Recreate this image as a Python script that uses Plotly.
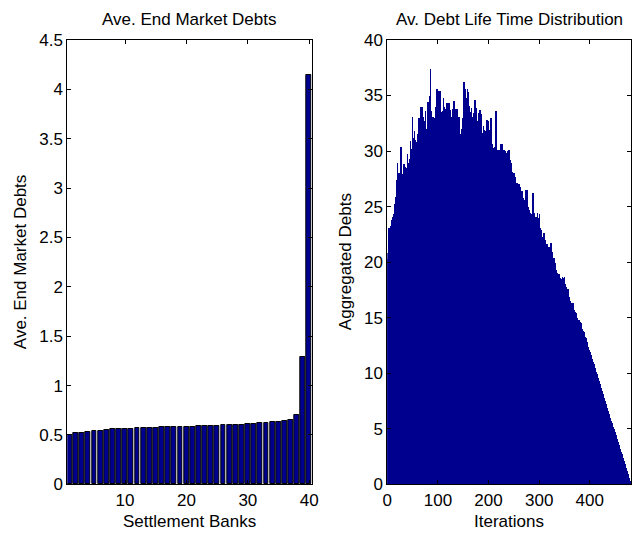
import plotly.graph_objects as go

# Average end-of-day market debt per settlement bank (banks sorted ascending)
banks = list(range(1, 41))
end_market_debts = [
    0.501, 0.521, 0.521, 0.534, 0.541, 0.541, 0.548, 0.558, 0.558, 0.558,
    0.562, 0.569, 0.569, 0.575, 0.575, 0.578, 0.578, 0.578, 0.582, 0.585,
    0.585, 0.588, 0.588, 0.588, 0.592, 0.599, 0.602, 0.605, 0.605, 0.609,
    0.612, 0.619, 0.622, 0.626, 0.636, 0.639, 0.650, 0.707, 1.290, 4.150,
]

# Aggregated debts still alive after each iteration
aggregated_debts = [
    20.3, 20.8, 21.3, 23.1, 22.6, 21.1, 23.0, 23.3, 22.8, 23.8,
    23.5, 24.1, 23.6, 24.3, 23.9, 25.2, 25.9, 25.0, 26.3, 27.4,
    28.9, 27.0, 28.0, 26.8, 27.6, 28.0, 27.1, 30.4, 27.5, 27.0,
    27.9, 26.9, 28.2, 28.8, 27.8, 28.6, 27.3, 28.5, 27.7, 29.7,
    28.1, 27.6, 28.9, 28.0, 29.3, 30.9, 29.0, 30.2, 29.6, 33.1,
    31.2, 30.0, 29.5, 31.8, 30.4, 31.0, 30.3, 29.2, 30.8, 30.1,
    31.5, 29.8, 33.0, 32.1, 31.0, 34.0, 32.3, 31.5, 34.0, 32.6,
    31.8, 33.1, 32.5, 31.0, 32.7, 33.6, 32.0, 30.6, 31.2, 32.5,
    34.4, 32.1, 33.0, 35.0, 32.8, 37.4, 33.6, 33.4, 31.9, 32.8,
    33.1, 31.5, 32.5, 33.0, 31.8, 34.0, 32.9, 33.2, 35.6, 34.0,
    33.2, 34.6, 35.4, 33.0, 34.1, 35.4, 33.5, 33.3, 33.0, 32.1,
    33.6, 34.8, 33.2, 34.0, 32.6, 33.8, 32.9, 33.5, 34.3, 32.8,
    33.4, 34.3, 32.0, 33.0, 33.7, 33.1, 32.2, 32.9, 33.8, 32.5,
    33.6, 34.5, 33.0, 32.4, 33.2, 33.8, 32.1, 33.0, 33.8, 32.7,
    31.9, 33.1, 32.4, 31.3, 31.5, 30.8, 32.0, 31.4, 32.2, 33.0,
    34.5, 36.2, 34.2, 35.0, 35.6, 33.6, 34.8, 33.9, 35.6, 34.2,
    35.3, 34.1, 34.0, 33.2, 32.8, 33.5, 33.9, 32.5, 33.1, 32.8,
    33.4, 32.3, 33.0, 34.6, 32.9, 33.1, 33.9, 32.4, 32.0, 32.7,
    33.4, 32.1, 32.8, 33.7, 31.8, 32.4, 33.3, 31.5, 31.0, 31.6,
    32.3, 30.9, 31.9, 31.2, 31.8, 30.6, 31.5, 32.8, 31.3, 31.0,
    32.7, 31.1, 31.9, 30.8, 33.0, 31.4, 30.2, 30.6, 29.8, 30.3,
    29.7, 30.4, 29.5, 31.0, 33.6, 30.3, 29.4, 30.1, 29.0, 29.8,
    30.1, 29.3, 29.7, 29.1, 30.6, 29.5, 29.8, 30.6, 29.0, 29.4,
    30.1, 28.8, 29.5, 30.0, 29.8, 28.9, 29.3, 30.0, 29.1, 29.8,
    30.1, 28.6, 29.2, 28.4, 28.9, 27.5, 28.1, 27.4, 27.0, 27.6,
    28.0, 27.2, 26.9, 27.7, 26.8, 27.1, 26.5, 27.1, 26.6, 26.2,
    27.0, 26.1, 26.5, 26.8, 25.9, 26.2, 26.4, 25.7, 25.3, 25.8,
    25.6, 24.9, 25.4, 26.5, 25.1, 24.8, 26.5, 25.2, 24.6, 25.0,
    24.7, 23.9, 24.4, 23.8, 23.5, 24.3, 25.0, 26.2, 24.1, 23.6,
    24.4, 23.7, 23.2, 24.1, 24.0, 23.3, 24.4, 23.5, 23.1, 24.0,
    24.3, 23.1, 22.7, 22.9, 22.4, 22.0, 22.3, 21.8, 22.6, 21.9,
    22.6, 21.5, 22.0, 21.3, 21.2, 21.6, 21.0, 21.4, 20.8, 21.2,
    21.4, 20.6, 21.2, 21.7, 20.3, 20.9, 20.2, 19.7, 20.1, 20.4,
    19.6, 19.9, 19.0, 19.3, 18.7, 19.0, 18.6, 18.9, 18.2, 18.9,
    18.4, 18.0, 18.6, 18.3, 17.9, 18.5, 18.7, 18.1, 18.6, 18.2,
    18.7, 17.8, 18.0, 17.5, 17.8, 17.4, 17.2, 17.6, 16.9, 16.8,
    16.9, 16.5, 16.3, 16.1, 16.3, 15.9, 16.3, 15.8, 15.6, 15.7,
    15.4, 15.5, 15.2, 15.4, 14.9, 15.0, 14.7, 14.5, 14.8, 14.7,
    14.4, 14.6, 14.3, 14.5, 14.0, 13.9, 13.8, 13.6, 13.7, 13.4,
    13.3, 13.1, 13.0, 13.2, 12.8, 12.6, 12.4, 12.3, 12.1, 12.0,
    11.9, 11.7, 11.6, 11.4, 11.3, 11.2, 11.0, 10.9, 10.8, 10.6,
    10.5, 10.4, 10.1, 10.0, 9.9, 9.7, 9.6, 9.4, 9.3, 9.1,
    9.0, 8.8, 8.7, 8.5, 8.4, 8.2, 8.1, 7.9, 7.8, 7.6,
    7.5, 7.3, 7.2, 7.0, 6.9, 6.7, 6.6, 6.4, 6.3, 6.1,
    6.0, 5.8, 5.7, 5.5, 5.4, 5.2, 5.1, 5.0, 4.8, 4.7,
    4.5, 4.4, 4.3, 4.1, 4.0, 3.8, 3.7, 3.5, 3.4, 3.2,
    3.1, 2.9, 2.8, 2.7, 2.5, 2.4, 2.2, 2.1, 1.9, 1.8,
    1.6, 1.5, 1.4, 1.2, 1.1, 0.9, 0.8, 0.6, 0.5, 0.3,
]
iterations = list(range(1, len(aggregated_debts) + 1))

W, H = 632, 533
NAVY = "rgb(0,0,143)"
FONT = "Liberation Sans, Arial, Helvetica, sans-serif"
FS = 17

# panel boxes in pixels (left, right, top, bottom)
left_box = (67.3, 311.7, 40.0, 484.3)
right_box = (387.3, 631.3, 40.0, 484.3)


def dom_x(b):
    return [b[0] / W, b[1] / W]


def dom_y(b):
    return [1 - b[3] / H, 1 - b[2] / H]


fig = go.Figure()
fig.add_trace(go.Bar(
    x=banks, y=end_market_debts, width=0.8,
    marker=dict(color=NAVY, line=dict(color="black", width=1)),
    xaxis="x", yaxis="y",
))
fig.add_trace(go.Bar(
    x=iterations, y=aggregated_debts, width=1.0,
    marker=dict(color=NAVY, line=dict(width=0)),
    xaxis="x2", yaxis="y2",
))

axis_common = dict(
    showline=True, linecolor="black", linewidth=1, mirror="ticks",
    ticks="inside", ticklen=4, tickcolor="black", tickwidth=1,
    showgrid=False, zeroline=False, automargin=False,
    tickfont=dict(family=FONT, size=FS, color="black"),
)

fig.update_layout(
    width=W, height=H,
    margin=dict(l=0, r=0, t=0, b=0, autoexpand=False),
    paper_bgcolor="white", plot_bgcolor="white",
    showlegend=False, bargap=0,
    xaxis=dict(domain=dom_x(left_box), range=[0.6, 40.4],
               tickvals=[10, 20, 30, 40], anchor="y", **axis_common),
    yaxis=dict(domain=dom_y(left_box), range=[0, 4.5], dtick=0.5, tick0=0,
               anchor="x", **axis_common),
    xaxis2=dict(domain=dom_x(right_box), range=[0, 482],
                tickvals=[0, 100, 200, 300, 400], anchor="y2", **axis_common),
    yaxis2=dict(domain=dom_y(right_box), range=[0, 40], dtick=5, tick0=0,
                anchor="x2", **axis_common),
)

text_font = dict(family=FONT, size=FS, color="black")
cx_left = (left_box[0] + left_box[1]) / 2 / W
cx_right = (right_box[0] + right_box[1]) / 2 / W
cy = (1 - (left_box[2] + left_box[3]) / 2 / H)

annotations = [
    dict(text="Ave. End Market Debts", x=cx_left, y=1 - 20 / H),
    dict(text="Av. Debt Life Time Distribution", x=cx_right, y=1 - 20 / H),
    dict(text="Settlement Banks", x=cx_left, y=1 - 521 / H),
    dict(text="Iterations", x=cx_right, y=1 - 521 / H),
    dict(text="Ave. End Market Debts", x=20 / W, y=cy, textangle=-90),
    dict(text="Aggregated Debts", x=345 / W, y=cy, textangle=-90),
]
for a in annotations:
    fig.add_annotation(xref="paper", yref="paper", showarrow=False,
                       xanchor="center", yanchor="middle", font=text_font, **a)

fig.write_html("out.html")
